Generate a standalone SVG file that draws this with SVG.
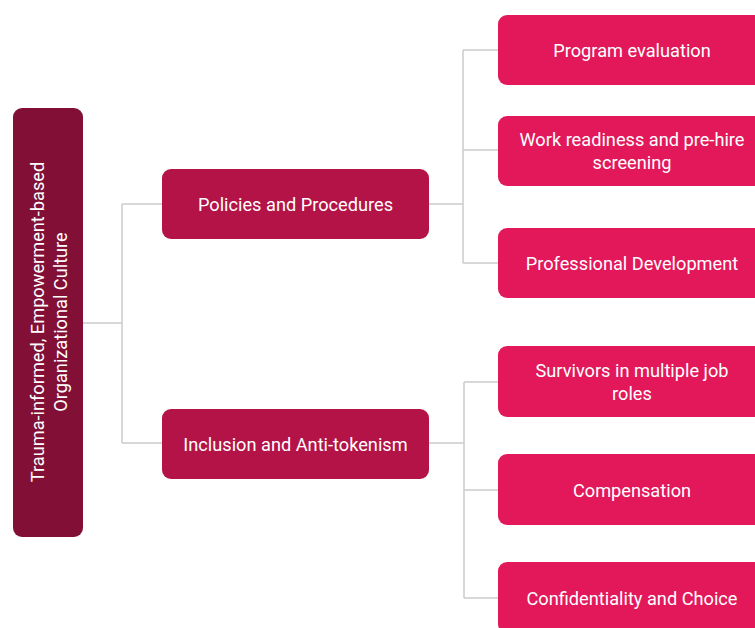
<svg xmlns="http://www.w3.org/2000/svg" width="755" height="628" viewBox="0 0 755 628">
<style>
.t{font-family:Roboto,"Liberation Sans",sans-serif;font-size:18.2px;fill:#fff;text-anchor:middle;dominant-baseline:central}
.c{fill:none;stroke:#cccccc;stroke-width:1.5}
.root{fill:#820f36}
.mid{fill:#b41347}
.leaf{fill:#e2185b}
</style>
<rect width="755" height="628" fill="#ffffff"/>
<g id="connectors">
<path class="c" d="M83 323 H122 M122 204 V443 M122 204 H162 M122 443 H162"/>
<path class="c" d="M429 204 H463 M463 50 V204 M463 50 H498 M463 204 V263 M463 150 H498 M463 263 H498"/>
<path class="c" d="M429 443 H464 M464 382 V598 M464 382 H498 M464 490 H498 M464 598 H498"/>
</g>
<g id="root">
<rect class="root" x="13" y="108" width="70" height="429" rx="9"/>
<text class="t" transform="translate(48 322) rotate(-90)"><tspan x="0" y="-11.5">Trauma-informed, Empowerment-based</tspan><tspan x="0" y="11.5">Organizational Culture</tspan></text>
</g>
<g id="policies">
<rect class="mid" x="162" y="169" width="267" height="70" rx="9"/>
<text class="t" x="295.5" y="204">Policies and Procedures</text>
</g>
<g id="inclusion">
<rect class="mid" x="162" y="409" width="267" height="70" rx="9"/>
<text class="t" x="295.5" y="444">Inclusion and Anti-tokenism</text>
</g>
<g id="program-evaluation">
<rect class="leaf" x="498" y="15" width="268" height="70" rx="9"/>
<text class="t" x="632" y="50">Program evaluation</text>
</g>
<g id="work-readiness">
<rect class="leaf" x="498" y="116" width="268" height="70" rx="9"/>
<text class="t" x="632" y="139.5">Work readiness and pre-hire</text>
<text class="t" x="632" y="162.5">screening</text>
</g>
<g id="professional-development">
<rect class="leaf" x="498" y="228" width="268" height="70" rx="9"/>
<text class="t" x="632" y="263">Professional Development</text>
</g>
<g id="survivors">
<rect class="leaf" x="498" y="346" width="268" height="71" rx="9"/>
<text class="t" x="632" y="370.5">Survivors in multiple job</text>
<text class="t" x="632" y="393.5">roles</text>
</g>
<g id="compensation">
<rect class="leaf" x="498" y="454" width="268" height="71" rx="9"/>
<text class="t" x="632" y="490">Compensation</text>
</g>
<g id="confidentiality">
<rect class="leaf" x="498" y="562" width="268" height="71" rx="9"/>
<text class="t" x="632" y="598">Confidentiality and Choice</text>
</g>
</svg>
